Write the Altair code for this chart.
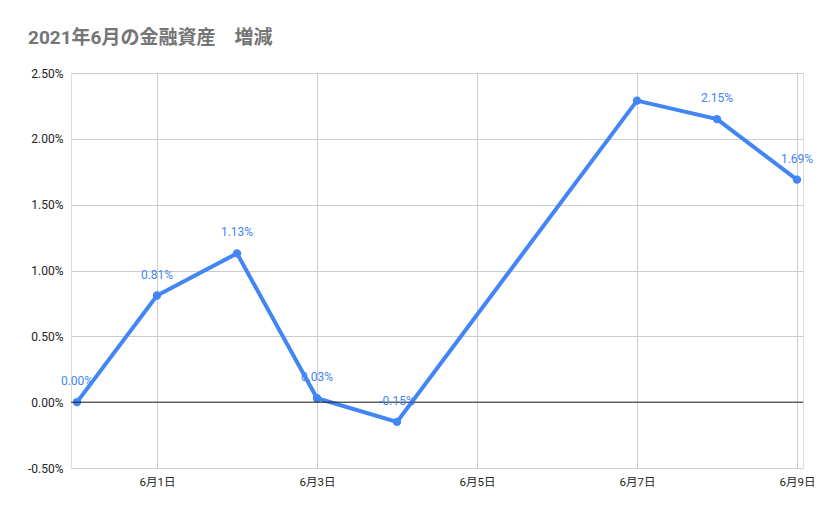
import altair as alt
import pandas as pd
from datetime import datetime, timezone

dates = ["2021-05-31", "2021-06-01", "2021-06-02", "2021-06-03", "2021-06-04",
         "2021-06-07", "2021-06-08", "2021-06-09"]
values = [0.00, 0.81, 1.13, 0.03, -0.15, 2.29, 2.15, 1.69]
show_label = [True, True, True, True, True, False, True, True]
tick_dates = ["2021-06-01", "2021-06-03", "2021-06-05", "2021-06-07", "2021-06-09"]
y_ticks = [-0.5, 0.0, 0.5, 1.0, 1.5, 2.0, 2.5]
title_text = "2021年6月の金融資産\u3000増減"

def ms(s, hours=0.0):
    d = datetime.strptime(s, "%Y-%m-%d").replace(tzinfo=timezone.utc)
    return int(d.timestamp() * 1000 + hours * 3600 * 1000)

df = pd.DataFrame({"date": dates, "value": values, "show": show_label})

FONT = "Roboto, 'Noto Sans CJK JP', sans-serif"
BLUE = "#4285F4"

x_enc = alt.X("date:T",
              scale=alt.Scale(type="utc", domain=[ms(dates[0], -1.8), ms(dates[-1], 1.8)]),
              axis=alt.Axis(values=[ms(d) for d in tick_dates],
                            labelExpr="(utcmonth(datum.value)+1) + '月' + utcdate(datum.value) + '日'",
                            title=None, grid=True, gridColor="#cccccc", domain=False,
                            ticks=False, labelPadding=8, labelFontSize=11.5,
                            labelColor="#222222", labelFont=FONT))
y_enc = alt.Y("value:Q",
              scale=alt.Scale(domain=[-0.5, 2.5], nice=False, zero=False),
              axis=alt.Axis(values=y_ticks,
                            labelExpr="replace(format(datum.value, '.2f'), '\u2212', '-') + '%'",
                            title=None, grid=True, gridColor="#cccccc", domain=False,
                            ticks=False, labelPadding=8, labelFontSize=12,
                            labelColor="#222222", labelFont=FONT))

base = alt.Chart(df)

zero = alt.Chart(pd.DataFrame({"z": [0.0]})).mark_rule(color="#222222", strokeWidth=1).encode(
    y=alt.Y("z:Q", scale=alt.Scale(domain=[-0.5, 2.5], nice=False, zero=False)))

line = base.mark_line(color=BLUE, strokeWidth=4, point=alt.OverlayMarkDef(color=BLUE, size=70, opacity=1, filled=True)).encode(
    x=x_enc, y=y_enc)

labels = base.transform_filter("datum.show").transform_calculate(
    lab="replace(format(datum.value, '.2f'), '\u2212', '-') + '%'"
).mark_text(color=BLUE, fontSize=12, font=FONT, dy=-21, baseline="middle").encode(
    x="date:T", y="value:Q", text="lab:N")

chart = alt.layer(line, zero, labels).properties(
    width=732, height=395,
    title=alt.TitleParams(title_text, anchor="start", frame="group", fontSize=19,
                          font="Roboto, 'Noto Sans CJK JP', sans-serif",
                          fontWeight="bold", color="#757575", dx=-43, offset=19),
    autosize=alt.AutoSizeParams(type="none"),
    padding={"left": 63, "top": 65, "right": 18, "bottom": 38},
).configure_view(stroke=None).configure(background="white")

chart.save("out.html", embed_options={"renderer": "svg", "actions": False})
